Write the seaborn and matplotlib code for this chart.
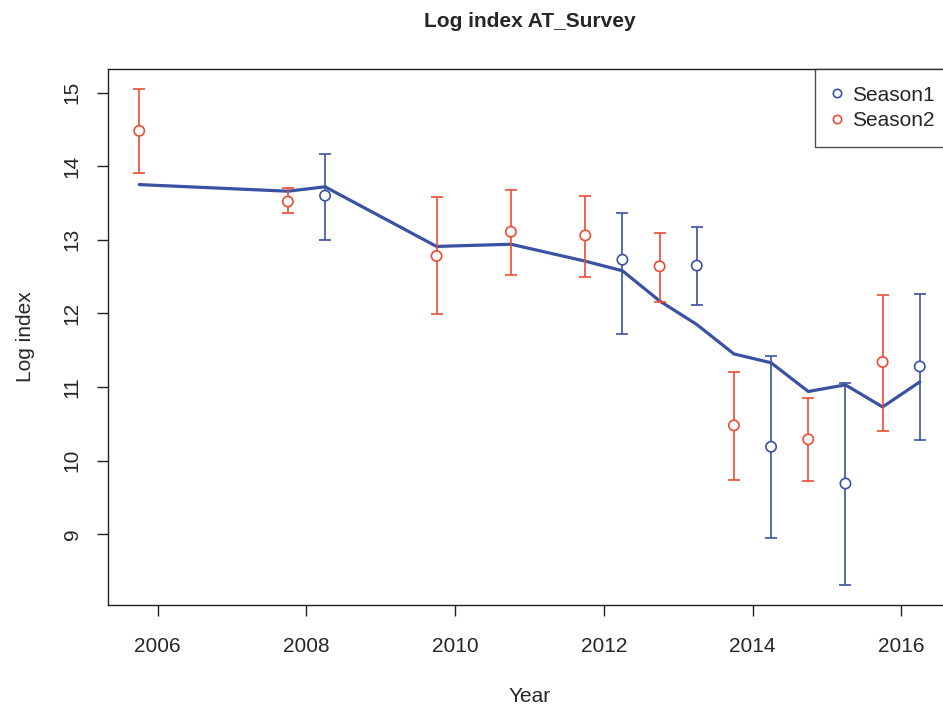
import numpy as np
import pandas as pd
import matplotlib
matplotlib.use("Agg")
import matplotlib.pyplot as plt
import seaborn as sns

# observed survey index, season 1
s1_year = [2008.25, 2012.25, 2013.25, 2014.25, 2015.25, 2016.25]
s1_val = [13.60, 12.73, 12.65, 10.19, 9.69, 11.28]
s1_lo = [13.00, 11.72, 12.12, 8.95, 8.31, 10.28]
s1_hi = [14.17, 13.37, 13.17, 11.42, 11.05, 12.27]

# observed survey index, season 2
s2_year = [2005.75, 2007.75, 2009.75, 2010.75, 2011.75, 2012.75, 2013.75, 2014.75, 2015.75]
s2_val = [14.48, 13.52, 12.78, 13.11, 13.06, 12.64, 10.48, 10.29, 11.34]
s2_lo = [13.91, 13.36, 11.99, 12.52, 12.50, 12.16, 9.74, 9.72, 10.41]
s2_hi = [15.05, 13.70, 13.58, 13.68, 13.60, 13.09, 11.21, 10.85, 12.25]

# fitted line
fit_year = [2005.75, 2007.75, 2008.25, 2009.75, 2010.75, 2011.75, 2012.25, 2012.75,
            2013.25, 2013.75, 2014.25, 2014.75, 2015.25, 2015.75, 2016.25]
fit_val = [13.75, 13.66, 13.72, 12.91, 12.94, 12.71, 12.58, 12.17,
           11.85, 11.45, 11.33, 10.94, 11.03, 10.73, 11.07]

blue = "#3B52A3"
red = "#EE4B33"

sns.set_style("white")
plt.rcParams["font.family"] = ["Liberation Sans", "DejaVu Sans"]

fig = plt.figure(figsize=(9.43, 7.08), dpi=100)
# plot box runs a little past the right edge, as in the original
ax = fig.add_axes([108 / 943, 103 / 708, 843 / 943, 536 / 708])

fit = pd.DataFrame({"Year": fit_year, "Log index": fit_val})
sns.lineplot(data=fit, x="Year", y="Log index", color=blue, linewidth=2.3, ax=ax)

for yr, v, lo, hi, col in [(s1_year, s1_val, s1_lo, s1_hi, blue),
                           (s2_year, s2_val, s2_lo, s2_hi, red)]:
    v = np.array(v)
    err = [v - np.array(lo), np.array(hi) - v]
    ax.errorbar(yr, v, yerr=err, fmt="none", ecolor=col, elinewidth=1.2,
                capsize=4.5, capthick=1.2, zorder=3)

obs = pd.DataFrame({
    "Year": s1_year + s2_year,
    "Log index": s1_val + s2_val,
    "Season": ["Season1"] * len(s1_year) + ["Season2"] * len(s2_year),
})
sns.scatterplot(data=obs, x="Year", y="Log index", hue="Season",
                palette={"Season1": blue, "Season2": red},
                s=55, linewidth=1.2, ax=ax, zorder=4, legend=False)
pts = ax.collections[-1]
pts.set_facecolor("white")
pts.set_edgecolor([blue] * len(s1_year) + [red] * len(s2_year))

ax.set_xlim(2005.33, 2016.67)
ax.set_ylim(8.04, 15.32)
ax.set_xticks([2006, 2008, 2010, 2012, 2014, 2016])
ax.set_yticks([9, 10, 11, 12, 13, 14, 15])
for lab in ax.get_yticklabels():
    lab.set_rotation(90)
    lab.set_va("center")

ax.tick_params(axis="both", direction="out", length=8, width=1, color="#222222",
               labelsize=15, left=True, bottom=True)
ax.tick_params(axis="x", pad=15)
ax.tick_params(axis="y", pad=11)
for sp in ax.spines.values():
    sp.set_visible(True)
    sp.set_color("#222222")
    sp.set_linewidth(1)

ax.set_xlabel("Year", fontsize=15, labelpad=22)
ax.set_ylabel("Log index", fontsize=15, labelpad=20)
ax.set_title("Log index AT_Survey", fontsize=15, fontweight="bold", pad=30)

handles = [
    plt.Line2D([], [], marker="o", linestyle="none", markerfacecolor="white",
               markeredgecolor=blue, markersize=6, markeredgewidth=1.2),
    plt.Line2D([], [], marker="o", linestyle="none", markerfacecolor="white",
               markeredgecolor=red, markersize=6, markeredgewidth=1.2),
]
leg = ax.legend(handles, ["Season1", "Season2"], loc="upper right",
                bbox_to_anchor=(1, 1), borderaxespad=0, fontsize=15,
                frameon=True, fancybox=False, handlelength=0.5,
                handletextpad=0.45, labelspacing=0.3, borderpad=0.8)
leg.get_frame().set_edgecolor("#222222")
leg.get_frame().set_linewidth(1)

fig.savefig("out.png", dpi=100)
